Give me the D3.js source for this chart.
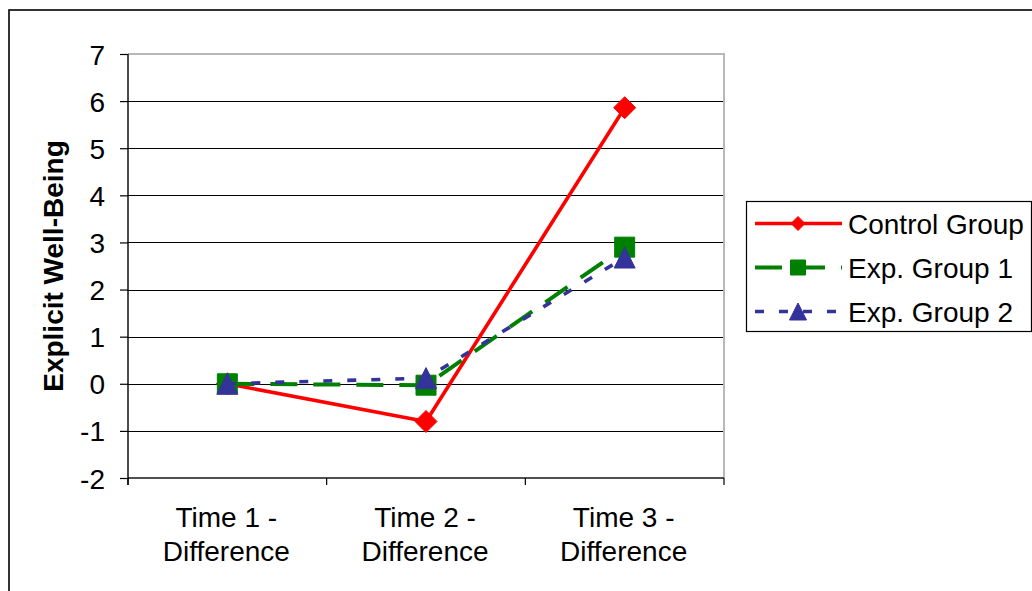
<!DOCTYPE html>
<html>
<head>
<meta charset="utf-8">
<script src="https://cdn.jsdelivr.net/npm/d3@7/dist/d3.min.js"></script>
<style>
  html, body { margin: 0; padding: 0; background: #fff; }
  svg { display: block; font-family: "Liberation Sans", Arial, sans-serif; }
</style>
</head>
<body>
<svg id="chart" width="1032" height="591"></svg>
<script>
// Explicit well-being change scores by group
const categories = ["Time 1 - Difference", "Time 2 - Difference", "Time 3 - Difference"];
const seriesNames = ["Control Group", "Exp. Group 1", "Exp. Group 2"];
const controlGroup = [0, -0.80, 5.86];
const expGroup1 = [0, -0.03, 2.90];
const expGroup2 = [0, 0.12, 2.68];
const yTicks = [-2, -1, 0, 1, 2, 3, 4, 5, 6, 7];
const yTitle = "Explicit Well-Being";

const series = [
  { name: seriesNames[0], values: controlGroup, color: "#ff0000", dash: null, width: 3.6, marker: "diamond", size: 22, legendSize: 14 },
  { name: seriesNames[1], values: expGroup1, color: "#008000", dash: "27,16", width: 4, marker: "square", size: 20, legendSize: 15 },
  { name: seriesNames[2], values: expGroup2, color: "#333399", dash: "9,15", width: 3.6, marker: "triangle", size: 21, legendSize: 17 }
];

const svg = d3.select("#chart");
const FS = 28;

// outer chart frame (runs past the right and bottom edges)
svg.append("rect")
  .attr("x", 9).attr("y", 10).attr("width", 1200).attr("height", 800)
  .attr("fill", "#fff").attr("stroke", "#000").attr("stroke-width", 1.6);

const plot = { left: 128, right: 724, top: 54, bottom: 478 };

const x = d3.scalePoint().domain(categories).range([plot.left, plot.right]).padding(0.5);
const xBand = d3.scaleBand().domain(categories).range([plot.left, plot.right]);
const y = d3.scaleLinear().domain([-2, 7]).range([plot.bottom, plot.top]);

// horizontal gridlines
svg.append("g").selectAll("line")
  .data(yTicks.filter(t => t > -2 && t < 7))
  .join("line")
  .attr("x1", plot.left).attr("x2", plot.right)
  .attr("y1", d => Math.round(y(d)) + 0.5).attr("y2", d => Math.round(y(d)) + 0.5)
  .attr("stroke", "#000").attr("stroke-width", 1.2);

// plot area border (top and right)
svg.append("path")
  .attr("d", `M${plot.left},${y(7)}H${plot.right}V${plot.bottom}`)
  .attr("fill", "none").attr("stroke", "#b8b8b8").attr("stroke-width", 2);

// x axis line at the bottom of the plot
svg.append("line")
  .attr("x1", plot.left).attr("x2", plot.right)
  .attr("y1", y(-2)).attr("y2", y(-2))
  .attr("stroke", "#505050").attr("stroke-width", 2);

// category boundary ticks
const boundaries = categories.map(c => xBand(c)).concat([xBand(categories[2]) + xBand.bandwidth()]);
svg.append("g").selectAll("line")
  .data(boundaries)
  .join("line")
  .attr("x1", d => d).attr("x2", d => d)
  .attr("y1", y(-2)).attr("y2", y(-2) + 7)
  .attr("stroke", "#000").attr("stroke-width", 1.2);

// y axis (plain hyphen-minus for negative labels)
const yAxis = d3.axisLeft(y).tickValues(yTicks).tickSize(8).tickPadding(15).tickFormat(d => String(d));
const gy = svg.append("g").attr("transform", `translate(${plot.left},0)`).call(yAxis);
gy.select(".domain").remove();
gy.selectAll(".tick line").attr("stroke", "#000").attr("stroke-width", 1.2);
gy.selectAll(".tick text").attr("font-size", FS).attr("fill", "#000").attr("dy", "0.36em")
  .attr("font-family", "Liberation Sans, Arial, sans-serif");
svg.append("line")
  .attr("x1", plot.left).attr("x2", plot.left)
  .attr("y1", plot.top).attr("y2", y(-2) + 7)
  .attr("stroke", "#000").attr("stroke-width", 1.4);

// y axis title
svg.append("text")
  .attr("transform", `translate(63,${(plot.top + plot.bottom) / 2}) rotate(-90)`)
  .attr("text-anchor", "middle")
  .attr("font-size", FS).attr("font-weight", "bold").attr("fill", "#000")
  .text(yTitle);

// category labels, wrapped after the dash
const xl = svg.append("g");
categories.forEach(c => {
  const i = c.indexOf("- ");
  const lines = [c.slice(0, i + 1), c.slice(i + 2)];
  const t = xl.append("text")
    .attr("text-anchor", "middle").attr("font-size", FS).attr("fill", "#000");
  lines.forEach((ln, k) => {
    t.append("tspan").attr("x", x(c) - 1).attr("y", 527 + k * 34).text(ln);
  });
});

// marker shapes
function markerPath(type, s) {
  const h = s / 2;
  if (type === "diamond") return `M0,${-h}L${h},0L0,${h}L${-h},0Z`;
  if (type === "square") return `M${-h},${-h}H${h}V${h}H${-h}Z`;
  return `M0,${-h}L${h},${h}L${-h},${h}Z`;
}

const line = d3.line().x((d, i) => x(categories[i])).y(d => y(d));

series.forEach(s => {
  const g = svg.append("g");
  g.append("path")
    .attr("d", line(s.values))
    .attr("fill", "none").attr("stroke", s.color).attr("stroke-width", s.width)
    .attr("stroke-dasharray", s.dash).attr("stroke-linejoin", "round");
  g.selectAll("path.m")
    .data(s.values)
    .join("path").attr("class", "m")
    .attr("transform", (d, i) => `translate(${x(categories[i])},${y(d)})`)
    .attr("d", markerPath(s.marker, s.size))
    .attr("fill", s.color).attr("stroke", s.color).attr("stroke-width", 1);
});

// legend
const legend = svg.append("g");
legend.append("rect")
  .attr("x", 746.5).attr("y", 201.5).attr("width", 285).attr("height", 130)
  .attr("fill", "#fff").attr("stroke", "#000").attr("stroke-width", 1.2);
series.forEach((s, i) => {
  const ly = 223.5 + i * 44;
  legend.append("line")
    .attr("x1", 755).attr("x2", 842).attr("y1", ly).attr("y2", ly)
    .attr("stroke", s.color).attr("stroke-width", s.width)
    .attr("stroke-dasharray", s.dash);
  legend.append("path")
    .attr("transform", `translate(798,${ly})`)
    .attr("d", markerPath(s.marker, s.legendSize))
    .attr("fill", s.color).attr("stroke", s.color).attr("stroke-width", 1);
  legend.append("text")
    .attr("x", 848).attr("y", ly).attr("dy", "0.36em")
    .attr("font-size", FS).attr("fill", "#000")
    .text(s.name);
});
</script>
</body>
</html>
